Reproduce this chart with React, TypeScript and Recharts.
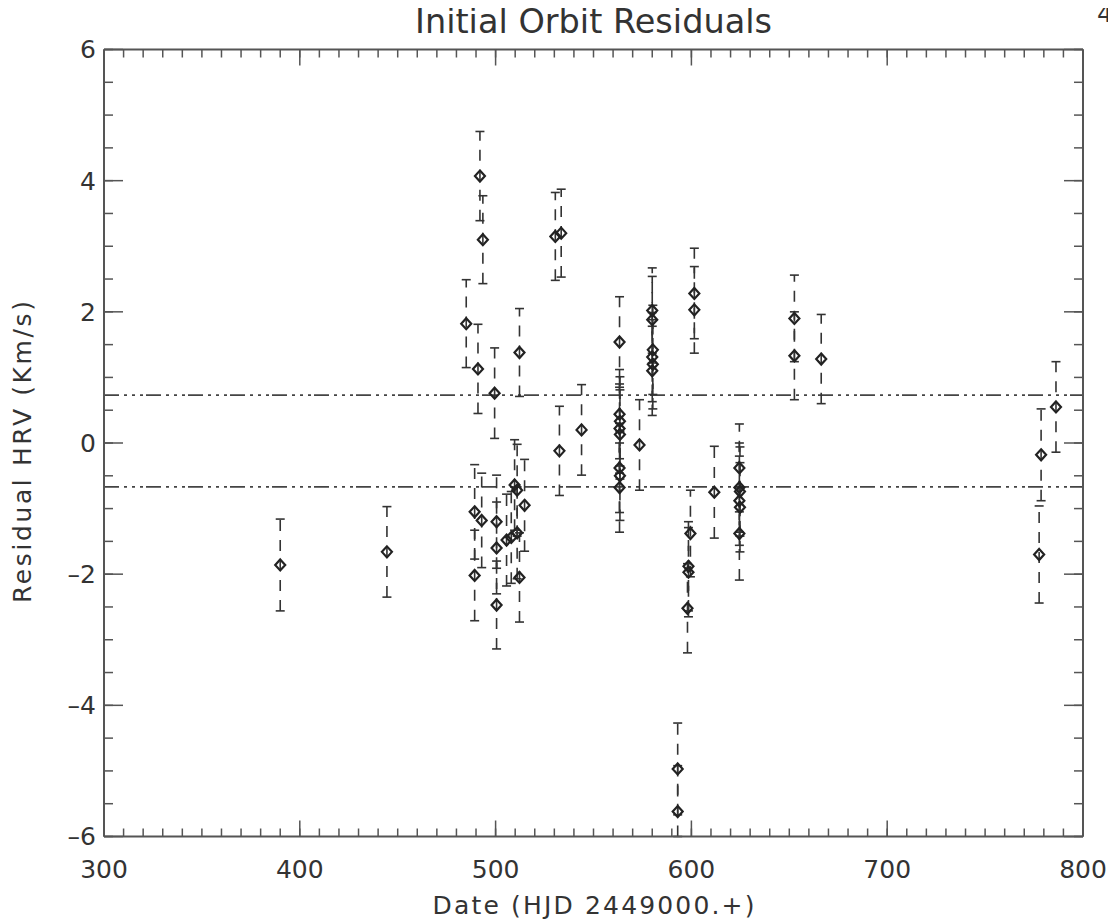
import React from 'react';
import { ScatterChart, Scatter, XAxis, YAxis, ErrorBar, ReferenceLine } from 'recharts';

// Observation dates (HJD - 2449000)
const dates = [
  390, 444.5, 485, 491, 492, 493.5, 499.5, 489.3, 492.9, 489.3,
  500.5, 500.5, 500.5, 505.6, 508, 511, 509.7, 511, 514.8, 512.2,
  512.2, 530.5, 533.5, 532.6, 543.9, 563.3, 563.3, 563.5, 563.3, 563.5,
  563.3, 563.5, 563.3, 573.5, 580, 580, 580.3, 580, 580.3, 580,
  593, 593, 598.5, 598.5, 598, 599.5, 601.5, 601.5, 611.7, 624.5,
  624.5, 624.8, 624.5, 624.8, 624.5, 652.6, 652.6, 666.3, 777.6, 778.6,
  786.2,
];

// Radial-velocity residuals (km/s)
const residuals = [
  -1.86, -1.66, 1.82, 1.13, 4.07, 3.1, 0.76, -1.05, -1.18, -2.02,
  -1.2, -1.6, -2.47, -1.48, -1.44, -1.37, -0.64, -0.72, -0.95, -2.05,
  1.38, 3.15, 3.2, -0.12, 0.2, 1.54, 0.44, 0.33, 0.22, 0.13,
  -0.38, -0.5, -0.68, -0.03, 2.02, 1.88, 1.42, 1.31, 1.2, 1.1,
  -4.97, -5.62, -1.88, -1.97, -2.52, -1.38, 2.28, 2.03, -0.75, -0.38,
  -0.68, -0.74, -0.88, -0.98, -1.38, 1.9, 1.33, 1.28, -1.7, -0.18,
  0.55,
];

// One-sigma uncertainties (km/s)
const errors = [
  0.7, 0.69, 0.67, 0.68, 0.68, 0.67, 0.69, 0.72, 0.72, 0.69,
  0.71, 0.7, 0.67, 0.7, 0.7, 0.7, 0.69, 0.7, 0.7, 0.68,
  0.67, 0.67, 0.67, 0.68, 0.69, 0.69, 0.68, 0.68, 0.68, 0.68,
  0.68, 0.68, 0.68, 0.69, 0.65, 0.66, 0.68, 0.68, 0.68, 0.68,
  0.7, 0.7, 0.68, 0.68, 0.68, 0.66, 0.69, 0.66, 0.7, 0.67,
  0.68, 0.68, 0.68, 0.68, 0.71, 0.66, 0.67, 0.68, 0.74, 0.7,
  0.69,
];

const dateTicks = [300, 400, 500, 600, 700, 800];
const residualTicks = [-6, -4, -2, 0, 2, 4, 6];
const sigmaLevels = [0.73, -0.67];

const DATE_DOMAIN: [number, number] = [300, 800];
const RESID_DOMAIN: [number, number] = [-6, 6];

const dateMinorTicks: number[] = [];
for (let d = 300; d <= 800; d += 10) dateMinorTicks.push(d);
const residualMinorTicks: number[] = [];
for (let r = -12; r <= 12; r += 1) residualMinorTicks.push(r / 2);

// error bars are cut where they leave the plotting window
const points = dates.map((d, i) => {
  const y = residuals[i];
  const e = errors[i];
  return {
    date: d,
    resid: y,
    errBar: [Math.min(e, y - RESID_DOMAIN[0]), Math.min(e, RESID_DOMAIN[1] - y)],
  };
});

const FONT = '"DejaVu Sans", sans-serif';
const FRAME = '#555';
const INK = '#222';

const formatResidual = (v: number) => (v < 0 ? `\u2013${Math.abs(v)}` : `${v}`);

const Diamond = (props: any) => {
  const { cx, cy } = props;
  if (cx == null || cy == null) return null;
  const h = 5.5;
  const w = 5;
  return (
    <polygon
      points={`${cx},${cy - h} ${cx + w},${cy} ${cx},${cy + h} ${cx - w},${cy}`}
      fill="none"
      stroke={INK}
      strokeWidth={2.2}
    />
  );
};

const NoMark = () => null;
const EmptyTick = () => <g />;

const TitleLabel = (props: any) => {
  const vb = props.viewBox || {};
  return (
    <g>
      <text
        x={vb.x + vb.width / 2}
        y={vb.y - 15.5}
        textAnchor="middle"
        fontFamily={FONT}
        fontSize={33}
        fill="#333"
        textLength={357}
        lengthAdjust="spacingAndGlyphs"
      >
        Initial Orbit Residuals
      </text>
      <text
        x={vb.x + vb.width + 22}
        y={vb.y - 27}
        textAnchor="middle"
        fontFamily={FONT}
        fontSize={25}
        fill="#333"
      >
        4
      </text>
    </g>
  );
};

const DateLabel = (props: any) => {
  const vb = props.viewBox || {};
  return (
    <text
      x={vb.x + vb.width / 2}
      y={vb.y + 77}
      textAnchor="middle"
      fontFamily={FONT}
      fontSize={25}
      fill="#333"
      textLength={322}
      lengthAdjust="spacing"
    >
      Date (HJD 2449000.+)
    </text>
  );
};

const ResidualLabel = (props: any) => {
  const vb = props.viewBox || {};
  const cx = vb.x + 23;
  const cy = vb.y + vb.height / 2 + 9;
  return (
    <text
      x={cx}
      y={cy}
      transform={`rotate(-90 ${cx} ${cy})`}
      textAnchor="middle"
      fontFamily={FONT}
      fontSize={25}
      fill="#333"
      textLength={302}
      lengthAdjust="spacing"
    >
      Residual HRV (Km/s)
    </text>
  );
};

const tickText = { fontSize: 25, fill: '#333', fontFamily: FONT };
const frameLine = { stroke: FRAME, strokeWidth: 2 };
const tickStroke = { stroke: FRAME, strokeWidth: 1.5 };

export default function App() {
  return (
    <div style={{ margin: '-8px 0 0 -8px', width: 1116, height: 924 }}>
      <ScatterChart
        width={1116}
        height={924}
        margin={{ top: 48.5, right: 32, bottom: 27.5, left: 8 }}
        style={{ background: '#fff' }}
      >
        {/* bottom: labelled major ticks */}
        <XAxis
          xAxisId="x"
          dataKey="date"
          type="number"
          domain={DATE_DOMAIN}
          ticks={dateTicks}
          interval={0}
          allowDataOverflow
          height={60}
          tickSize={-16}
          tickMargin={39.5}
          tick={tickText}
          axisLine={frameLine}
          tickLine={tickStroke}
          label={{ content: DateLabel }}
        />
        {/* bottom: minor ticks */}
        <XAxis
          xAxisId="xMinorBottom"
          dataKey="date"
          type="number"
          domain={DATE_DOMAIN}
          ticks={dateMinorTicks}
          interval={0}
          allowDataOverflow
          mirror
          height={10}
          tickSize={8}
          tick={EmptyTick}
          axisLine={false}
          tickLine={tickStroke}
        />
        {/* top: major ticks + title */}
        <XAxis
          xAxisId="xTop"
          dataKey="date"
          orientation="top"
          type="number"
          domain={DATE_DOMAIN}
          ticks={dateTicks}
          interval={0}
          allowDataOverflow
          height={1}
          tickSize={-16}
          tick={EmptyTick}
          axisLine={frameLine}
          tickLine={tickStroke}
          label={{ content: TitleLabel }}
        />
        {/* top: minor ticks */}
        <XAxis
          xAxisId="xMinorTop"
          dataKey="date"
          orientation="top"
          type="number"
          domain={DATE_DOMAIN}
          ticks={dateMinorTicks}
          interval={0}
          allowDataOverflow
          mirror
          height={10}
          tickSize={8}
          tick={EmptyTick}
          axisLine={false}
          tickLine={tickStroke}
        />

        {/* left: labelled major ticks */}
        <YAxis
          yAxisId="y"
          dataKey="resid"
          type="number"
          domain={RESID_DOMAIN}
          ticks={residualTicks}
          interval={0}
          allowDataOverflow
          width={96}
          tickSize={-19}
          tickMargin={27}
          tick={tickText}
          tickFormatter={formatResidual}
          axisLine={frameLine}
          tickLine={tickStroke}
          label={{ content: ResidualLabel }}
        />
        {/* left: minor ticks */}
        <YAxis
          yAxisId="yMinorLeft"
          dataKey="resid"
          type="number"
          domain={RESID_DOMAIN}
          ticks={residualMinorTicks}
          interval={0}
          allowDataOverflow
          mirror
          width={10}
          tickSize={9}
          tick={EmptyTick}
          axisLine={false}
          tickLine={tickStroke}
        />
        {/* right: major ticks */}
        <YAxis
          yAxisId="yRight"
          dataKey="resid"
          orientation="right"
          type="number"
          domain={RESID_DOMAIN}
          ticks={residualTicks}
          interval={0}
          allowDataOverflow
          width={1}
          tickSize={-19}
          tick={EmptyTick}
          axisLine={frameLine}
          tickLine={tickStroke}
        />
        {/* right: minor ticks */}
        <YAxis
          yAxisId="yMinorRight"
          dataKey="resid"
          orientation="right"
          type="number"
          domain={RESID_DOMAIN}
          ticks={residualMinorTicks}
          interval={0}
          allowDataOverflow
          mirror
          width={10}
          tickSize={9}
          tick={EmptyTick}
          axisLine={false}
          tickLine={tickStroke}
        />

        {/* unmarked series that give the frame axes their scales */}
        <Scatter data={points} xAxisId="xMinorBottom" yAxisId="yMinorLeft" shape={NoMark} isAnimationActive={false} />
        <Scatter data={points} xAxisId="xTop" yAxisId="yRight" shape={NoMark} isAnimationActive={false} />
        <Scatter data={points} xAxisId="xMinorTop" yAxisId="yMinorRight" shape={NoMark} isAnimationActive={false} />

        {sigmaLevels.map((lvl) => (
          <ReferenceLine
            key={lvl}
            xAxisId="x"
            yAxisId="y"
            y={lvl}
            stroke="#444"
            strokeWidth={1.8}
            strokeDasharray="15 5 3 5 3 5 3 3"
          />
        ))}

        <Scatter
          data={points}
          xAxisId="x"
          yAxisId="y"
          dataKey="resid"
          shape={Diamond}
          isAnimationActive={false}
        >
          <ErrorBar
            dataKey="errBar"
            direction="y"
            width={4.5}
            stroke="#333"
            strokeWidth={1.6}
            strokeDasharray="11 9"
            isAnimationActive={false}
          />
        </Scatter>
      </ScatterChart>
    </div>
  );
}
